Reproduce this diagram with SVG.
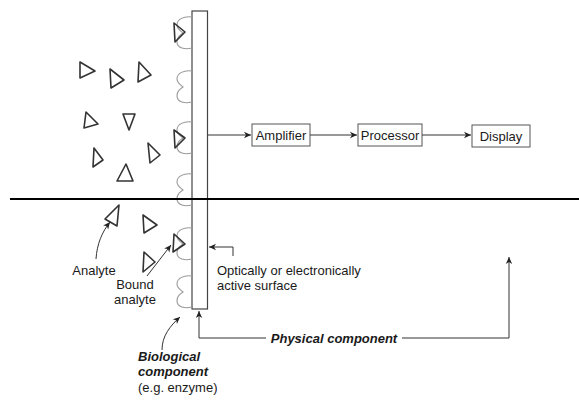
<svg xmlns="http://www.w3.org/2000/svg" width="579" height="417" viewBox="0 0 579 417">
<defs>
<marker id="ah" viewBox="0 0 8 8" refX="7" refY="4" markerWidth="8" markerHeight="8" markerUnits="userSpaceOnUse" orient="auto">
<path d="M0,0.8 L7,4 L0,7.2 L2,4 Z" fill="#222"/>
</marker>
<path id="cup" d="M0,0 C-8,-1 -15,2 -15,8 C-15,12 -11,14 -9,16 C-12,18 -15,20 -15,25 C-15,31 -7,33 0,31"/>
</defs>
<style>
.bg{fill:#fff}
.cup{fill:none;stroke:#9a9a9a;stroke-width:1.1}
.tri{fill:none;stroke:#333;stroke-width:1.6;stroke-linejoin:round}
.ln{fill:none;stroke:#333;stroke-width:1}
.box{fill:#fff;stroke:#555;stroke-width:1}
.t{font-family:"Liberation Sans",Arial,sans-serif;font-size:13px;fill:#1a1a1a}
.bi{font-weight:bold;font-style:italic}
</style>
<rect class="bg" x="0" y="0" width="579" height="417"/>

<g id="surface">
<rect x="192" y="11" width="15.5" height="298" fill="#fff" stroke="#444" stroke-width="1.2"/>
</g>

<g id="biological-component">
<use href="#cup" class="cup" x="192" y="17"/>
<use href="#cup" class="cup" x="192" y="71"/>
<use href="#cup" class="cup" x="192" y="122"/>
<use href="#cup" class="cup" x="192" y="174"/>
<use href="#cup" class="cup" x="192" y="228"/>
<use href="#cup" class="cup" x="192" y="276"/>
</g>

<g id="bound-analytes">
<polygon class="tri" points="174,23 175,42 185,32"/>
<polygon class="tri" points="174,130 175,148 185,138"/>
<polygon class="tri" points="174,234 173,252 185,244"/>
</g>

<g id="analytes">
<polygon class="tri" points="80,62 80,78 95,71"/>
<polygon class="tri" points="110,69 111,88 124,80"/>
<polygon class="tri" points="139,62 138,82 151,75"/>
<polygon class="tri" points="86,112 84,128 98,124"/>
<polygon class="tri" points="123,114 135,114 129,130"/>
<polygon class="tri" points="94,148 93,167 103,160"/>
<polygon class="tri" points="148,143 150,163 160,155"/>
<polygon class="tri" points="126,164 117,181 133,181"/>
<polygon class="tri" points="119,205 117,226 105,219"/>
<polygon class="tri" points="143,215 144,233 157,225"/>
<polygon class="tri" points="144,252 143,272 155,262"/>
</g>

<g id="divider">
<line x1="10" y1="199" x2="579" y2="199" stroke="#000" stroke-width="2.2"/>
</g>

<g id="amplifier">
<rect class="box" x="252" y="124" width="58" height="22"/>
<text class="t" x="281" y="139.5" text-anchor="middle">Amplifier</text>
</g>
<g id="processor">
<rect class="box" x="358" y="124" width="64" height="22"/>
<text class="t" x="390" y="139.5" text-anchor="middle">Processor</text>
</g>
<g id="display">
<rect class="box" x="472" y="125" width="58" height="22"/>
<text class="t" x="501" y="140.5" text-anchor="middle">Display</text>
</g>

<g id="labels">
<text class="t" x="94" y="275" text-anchor="middle">Analyte</text>
<text class="t" x="135" y="289" text-anchor="middle">Bound</text>
<text class="t" x="135" y="304" text-anchor="middle">analyte</text>
<text class="t" x="217" y="275">Optically or electronically</text>
<text class="t" x="217" y="290">active surface</text>
<text class="t bi" x="334" y="343" text-anchor="middle">Physical component</text>
<text class="t bi" x="138" y="361">Biological</text>
<text class="t bi" x="138" y="376">component</text>
<text class="t" x="138" y="392">(e.g. enzyme)</text>
</g>

<g id="connectors">
<line class="ln" x1="208" y1="135" x2="251" y2="135" marker-end="url(#ah)"/>
<line class="ln" x1="310" y1="135" x2="357" y2="135" marker-end="url(#ah)"/>
<line class="ln" x1="422" y1="135" x2="471" y2="135" marker-end="url(#ah)"/>
<path class="ln" d="M96,259 C97,244 102,232 110,222" marker-end="url(#ah)"/>
<path class="ln" d="M147,276 L171,245" marker-end="url(#ah)"/>
<path class="ln" d="M162,350 C162,336 170,326 180,317" marker-end="url(#ah)"/>
<path class="ln" d="M233,256 V247 H209" marker-end="url(#ah)"/>
<path class="ln" d="M266,338 H199 V311" marker-end="url(#ah)"/>
<path class="ln" d="M402,338 H509 V257" marker-end="url(#ah)"/>
</g>
</svg>
